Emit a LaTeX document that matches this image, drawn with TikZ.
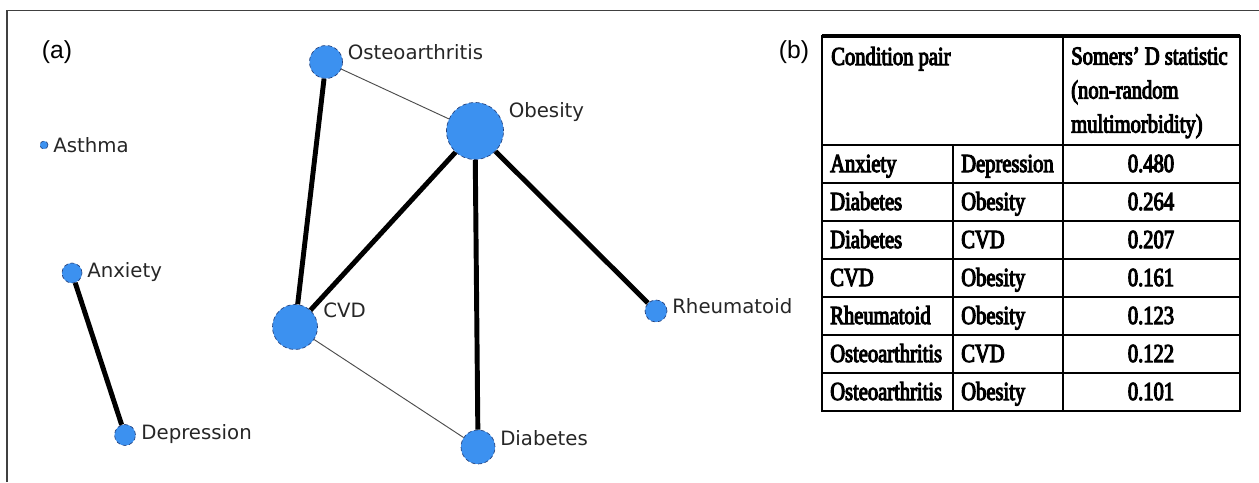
\documentclass[tikz,border=0pt]{standalone}
\usepackage{fontspec}
\setmainfont{Liberation Sans}
\newfontfamily\lblfont{DejaVu Sans}
\newfontfamily\tabfont[FakeStretch=0.79,FakeBold=4]{Liberation Serif}
\usetikzlibrary{positioning}
\definecolor{nodeblue}{RGB}{60,145,240}
\definecolor{rimblue}{RGB}{35,65,125}
\tikzset{
    x=0.75pt, y=-0.75pt, % one unit is one pixel of the figure, y runs down
    disease/.style={circle, fill=nodeblue, draw=rimblue, densely dashed, line width=0.5pt, inner sep=0pt, minimum size=#1*1.5pt}, % argument is the radius
    condlabel/.style={font=\lblfont\fontsize{14.8}{17}\selectfont, text=black!85, inner sep=0pt, text height=1.5ex, text depth=.25ex},
    strong/.style={line width=3.7pt}, % high Somers' D
    weak/.style={line width=0.7pt, draw=black!70}, % low Somers' D
    panel/.style={font=\fontsize{18.5}{21}\selectfont, inner sep=0pt},
    cell/.style={font=\tabfont\fontsize{19.5}{25.5}\selectfont, inner sep=0pt},
}
\begin{document}
\begin{tikzpicture}
    \useasboundingbox (0,0) rectangle (1259,482);
    \draw[black!75, line width=0.8pt] (7,482) |- (1259,10.5);

    % (a) network of conditions
    \node[panel] (pa) at (57,52) {(a)};
    \node[disease=4] (asthma) at (44,145) {};
    \node[disease=10] (anx) at (72,273) {};
    \node[disease=10.5] (dep) at (125,435) {};
    \node[disease=16.5] (osteo) at (326,62) {};
    \node[disease=28.5] (obes) at (475,131) {};
    \node[disease=22.5] (cvd) at (295,327) {};
    \node[disease=11] (rheum) at (656,311) {};
    \node[disease=17] (diab) at (478,447) {};

    \node[condlabel, right=3.5pt of asthma, yshift=-2pt] (asthmaT) {Asthma};
    \node[condlabel, right=3.5pt of anx] (anxT) {Anxiety};
    \node[condlabel, right=4pt of dep] (depT) {Depression};
    \node[condlabel, right=3.5pt of osteo, yshift=5pt] (osteoT) {Osteoarthritis};
    \node[condlabel, right=3.5pt of obes, yshift=13.5pt] (obesT) {Obesity};
    \node[condlabel, right=4pt of cvd, yshift=10.5pt] (cvdT) {CVD};
    \node[condlabel, right=3.5pt of rheum, yshift=1.5pt] (rheumT) {Rheumatoid};
    \node[condlabel, right=3.5pt of diab, yshift=4.5pt] (diabT) {Diabetes};

    \draw[strong] (anx) -- (dep);
    \draw[strong] (osteo) -- (cvd);
    \draw[strong] (obes) -- (cvd);
    \draw[strong] (obes) -- (diab);
    \draw[strong] (obes) -- (rheum);
    \draw[weak] (osteo) -- (obes);
    \draw[weak] (cvd) -- (diab);

    % (b) table of Somers' D
    \node[panel] (pb) at (794,52) {(b)};
    \node[cell, anchor=base west] (hdrpair) at (831,65) {Condition pair};
    \node[cell, anchor=north west, align=left] (hdrstat) at (1071,47) {Somers’ D statistic\\(non-random\\multimorbidity)};
    \foreach \first/\second/\val [count=\i] in {Anxiety/Depression/0.480, Diabetes/Obesity/0.264, Diabetes/CVD/0.207, CVD/Obesity/0.161, Rheumatoid/Obesity/0.123, Osteoarthritis/CVD/0.122, Osteoarthritis/Obesity/0.101}{
        \node[cell, anchor=base west] (ca\i) at (830,{134+38*\i}) {\first};
        \node[cell, anchor=base west] (cb\i) at (961,{134+38*\i}) {\second};
        \node[cell, anchor=base] (cv\i) at (1151,{134+38*\i}) {\val};
    }
    \foreach \yy in {183,221,259,297}
        \draw[line width=1pt] (822,\yy) -- (1240,\yy);
    \foreach \yy in {335,373}
        \draw[line width=2.2pt] (822,\yy) -- (1240,\yy);
    \draw[line width=1.5pt] (822,145) -- (1240,145);
    \draw[line width=1.4pt] (953,145) -- (953,411);
    \draw[line width=1.4pt] (1063,36) -- (1063,411);
    \draw[line width=2.2pt] (822,36) rectangle (1240,411);
    \draw[line width=3pt] (822,36) -- (1240,36);
\end{tikzpicture}
\end{document}
